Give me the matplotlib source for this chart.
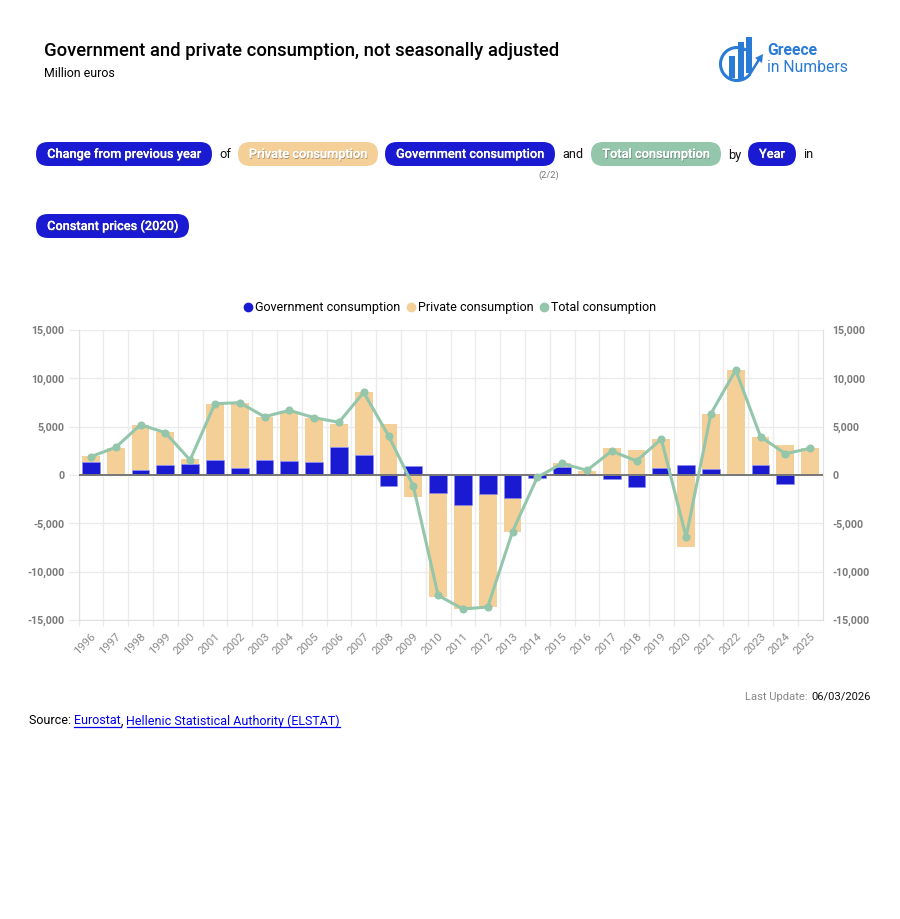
import numpy as np
import matplotlib
matplotlib.use("Agg")
import matplotlib.pyplot as plt
from matplotlib.patches import FancyBboxPatch, Rectangle, Polygon
from matplotlib.lines import Line2D
from matplotlib.transforms import ScaledTranslation
import matplotlib.patheffects as pe

plt.rcParams['font.family'] = ['Roboto', 'DejaVu Sans']

years = list(range(1996, 2026))
government = [1.38e3, 0.02e3, 0.52e3, 1.03e3, 1.17e3, 1.55e3, 0.76e3, 1.55e3, 1.45e3, 1.34e3,
              2.86e3, 2.07e3, -1.10e3, 0.97e3, -1.90e3, -3.10e3, -1.97e3, -2.40e3, -0.35e3, 0.83e3,
              0.05e3, -0.40e3, -1.20e3, 0.70e3, 1.05e3, 0.62e3, -0.05e3, 1.00e3, -0.97e3, 0.05e3]
private = [0.62e3, 2.74e3, 4.62e3, 3.38e3, 0.45e3, 5.79e3, 6.65e3, 4.48e3, 5.00e3, 4.59e3,
           2.45e3, 6.48e3, 5.24e3, -2.28e3, -10.76e3, -10.80e3, -11.73e3, -3.50e3, 0.10e3, 0.37e3,
           0.40e3, 2.83e3, 2.55e3, 3.02e3, -7.41e3, 5.66e3, 10.86e3, 2.93e3, 3.14e3, 2.71e3]
total = [1.90e3, 2.86e3, 5.20e3, 4.38e3, 1.55e3, 7.38e3, 7.48e3, 6.03e3, 6.69e3, 5.93e3,
         5.45e3, 8.55e3, 4.07e3, -1.14e3, -12.45e3, -13.86e3, -13.66e3, -5.86e3, -0.24e3, 1.20e3,
         0.48e3, 2.48e3, 1.45e3, 3.72e3, -6.41e3, 6.34e3, 10.86e3, 3.97e3, 2.20e3, 2.76e3]
y_ticks = [-15000, -10000, -5000, 0, 5000, 10000, 15000]

BLUE = '#1a1ad2'
TAN = '#f4cf97'
GREEN = '#93c6aa'
GRAY = '#7a7a7a'
GRID = '#ebebeb'
LOGO = '#2a7bd6'
W, H = 900, 919

fig = plt.figure(figsize=(W / 100, H / 100), dpi=100, facecolor='white')

# Chart
L, R, T, B = 78.5, 822.5, 330, 620
ax = fig.add_axes([L / W, 1 - B / H, (R - L) / W, (B - T) / H])
x = np.arange(len(years))
gov = np.array(government)
pri = np.array(private)
bottom = np.where(np.sign(gov) == np.sign(pri), gov, 0)
ax.bar(x, pri, 0.72, bottom=bottom, color=TAN, zorder=2)
ax.bar(x, gov, 0.72, color=BLUE, edgecolor='#8c8cf0', linewidth=0.4, zorder=3)
ax.axhline(0, color='#777777', lw=1.4, zorder=4)
ax.plot(x, total, color=GREEN, lw=2.2, marker='o', ms=4.8, zorder=5, clip_on=False)
ax.set_xlim(-0.5, len(years) - 0.5)
ax.set_ylim(-15000, 15000)
ax.set_yticks(y_ticks)
ax.set_yticklabels([f'{v:,}' for v in y_ticks], fontsize=7.7, fontweight='bold', color=GRAY)
ax.set_xticks(x - 0.5, minor=False)
ax.set_xticklabels([])
ax.set_xticks(x, minor=True)
ax.set_xticklabels(years, minor=True, rotation=45, ha='right', va='top', rotation_mode='anchor',
                   fontsize=8.2, color='#8a8a8a')
shift = ScaledTranslation(-4 / 72, 1 / 72, fig.dpi_scale_trans)
for lab in ax.get_xticklabels(minor=True):
    lab.set_transform(lab.get_transform() + shift)
ax.tick_params(axis='x', which='major', length=4, color=GRID, width=1, pad=3)
ax.tick_params(axis='x', which='minor', length=0, pad=8)
ax.tick_params(axis='y', length=7, color=GRID, width=1, pad=3)
ax.grid(True, which='major', color=GRID, lw=1, zorder=0)
ax.set_axisbelow(True)
ax.spines['top'].set_visible(False)
for s in ('left', 'right', 'bottom'):
    ax.spines[s].set_color('#e0e0e0')
ax2 = ax.twinx()
ax2.set_ylim(-15000, 15000)
ax2.set_yticks(y_ticks)
ax2.set_yticklabels([f'{v:,}' for v in y_ticks], fontsize=7.7, fontweight='bold', color=GRAY)
ax2.tick_params(axis='y', length=0, pad=7)
for s in ax2.spines.values():
    s.set_visible(False)

handles = [Line2D([], [], ls='', marker='o', ms=6, color=c) for c in (BLUE, TAN, GREEN)]
fig.legend(handles, ['Government consumption', 'Private consumption', 'Total consumption'],
           loc='center', bbox_to_anchor=(448 / W, 1 - 308 / H), ncol=3, frameon=False, fontsize=9.0,
           handletextpad=-0.1, columnspacing=0.18, handlelength=1.3)

# Overlay in pixel coordinates
ov = fig.add_axes([0, 0, 1, 1], zorder=10)
ov.set_xlim(0, W)
ov.set_ylim(H, 0)
ov.axis('off')
ov.patch.set_alpha(0)

ov.text(44, 51, 'Government and private consumption, not seasonally adjusted', fontsize=13.3,
        fontweight='medium', va='center', color='black')
ov.text(44, 73.5, 'Million euros', fontsize=8.9, va='center', color='black')


def pill(x0, x1, yc, label, color):
    h = 24
    ov.add_patch(FancyBboxPatch((x0 + h / 2, yc), x1 - x0 - h, 0.001,
                                boxstyle=f'round,pad={h / 2},rounding_size={h / 2}', fc=color, ec='none'))
    ov.text((x0 + x1) / 2, yc + 0.3, label, color='white', fontsize=9.2, fontweight='medium', ha='center',
            va='center', path_effects=[pe.withSimplePatchShadow(offset=(0.5, -0.8), shadow_rgbFace='#555555', alpha=0.5),
                                       pe.Normal()])


pill(36, 212, 154, 'Change from previous year', BLUE)
pill(238, 378, 154, 'Private consumption', TAN)
pill(385, 555, 154, 'Government consumption', BLUE)
pill(591, 721, 154, 'Total consumption', GREEN)
pill(748, 796, 154, 'Year', BLUE)
pill(36, 189, 226, 'Constant prices (2020)', BLUE)
for xc, s in [(225, 'of'), (573, 'and'), (735, 'by'), (808, 'in')]:
    ov.text(xc, 155, s, fontsize=9.2, ha='center', va='center', color='#111111')
ov.text(548.5, 175.5, '(2/2)', fontsize=6.7, ha='center', va='center', color='#777777')

# Logo
for x0, x1, y0, y1 in [(729, 735, 56, 78), (737.5, 744, 42, 79), (746, 752, 37, 73)]:
    ov.add_patch(Rectangle((x0, y0), x1 - x0, y1 - y0, fc=LOGO, ec='none'))
t = np.radians(np.linspace(60, 320, 60))
ov.plot(737 + 16.5 * np.cos(t), 64 - 16.5 * np.sin(t), color=LOGO, lw=2.2, solid_capstyle='round')
ov.plot([750, 760], [74, 58], color=LOGO, lw=1.8)
ov.add_patch(Polygon([(763, 54), (755, 58), (762, 63)], fc=LOGO, ec='none'))
ov.text(767, 50.5, 'Greece', fontsize=11.3, fontweight='bold', color=LOGO, va='center')
ov.text(767, 67.5, 'in Numbers', fontsize=11.3, color=LOGO, va='center')

# Footer
ov.text(871, 696.5, '06/03/2026', fontsize=8.1, ha='right', va='center', color='#111111')
ov.text(807.5, 696.5, 'Last Update:', fontsize=8.1, ha='right', va='center', color='#888888')

fig.canvas.draw()
rend = fig.canvas.get_renderer()
inv = ov.transData.inverted()
cx = 29
for s, c, link in [('Source: ', 'black', False), ('Eurostat', '#0000ee', True), (', ', 'black', False),
                   ('Hellenic Statistical Authority (ELSTAT)', '#0000ee', True)]:
    tx = ov.text(cx, 721, s.replace(' ', '\u00a0'), fontsize=9.0, va='center', color=c)
    bb = tx.get_window_extent(rend)
    x1 = inv.transform((bb.x1, bb.y0))[0]
    if link:
        ov.plot([cx, x1], [727, 727], color=c, lw=0.9)
    cx = x1
ov.set_xlim(0, W)
ov.set_ylim(H, 0)

fig.savefig('out.png', dpi=100, facecolor='white')
